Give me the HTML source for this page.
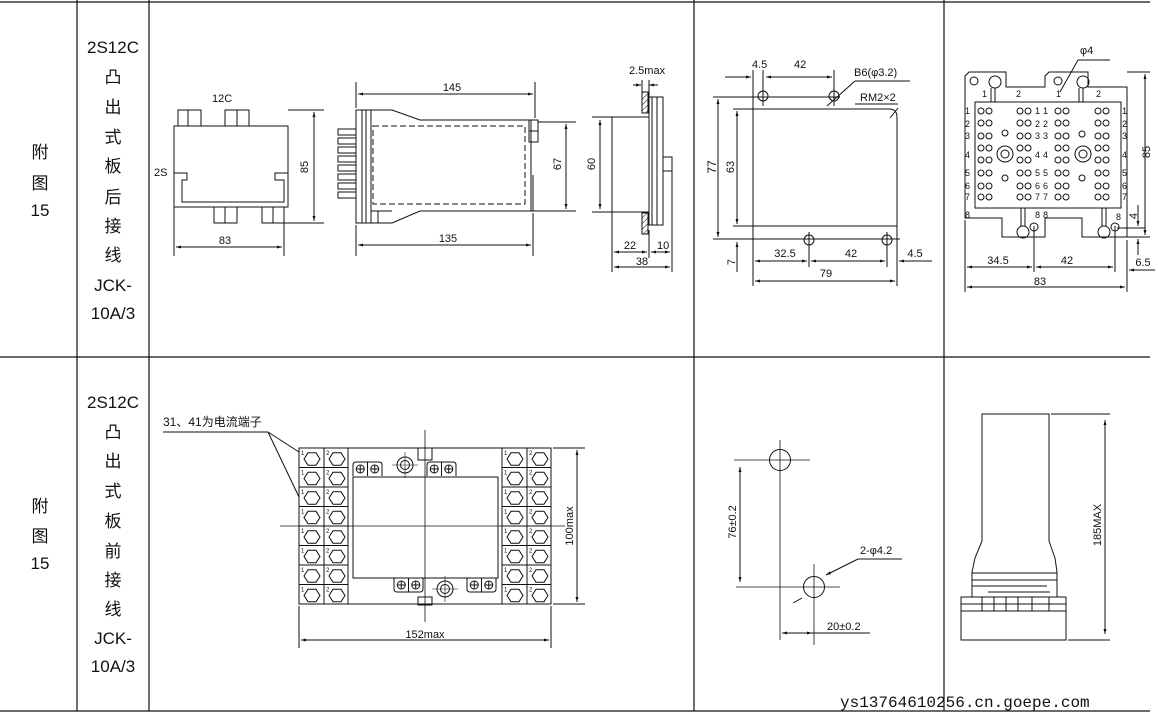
<!DOCTYPE html>
<html><head><meta charset="utf-8"><style>
html,body{margin:0;padding:0;background:#fff;}
svg{display:block;}
text{font-family:"Liberation Sans","Noto Sans CJK SC",sans-serif;fill:#111;}
.cj{font-family:"Liberation Sans","Noto Sans CJK SC",sans-serif;font-size:17px;}
.t{font-size:11px;}
</style></head><body>
<svg id="s" width="1158" height="718" viewBox="0 0 1158 718" xmlns="http://www.w3.org/2000/svg" stroke="#111" fill="none" stroke-width="1">
<defs>
<marker id="a" viewBox="0 0 10 10" refX="10" refY="5" markerWidth="7" markerHeight="5" orient="auto-start-reverse"><path d="M0,2L10,5L0,8z" fill="#111" stroke="none"/></marker>
<pattern id="h" width="4" height="4" patternUnits="userSpaceOnUse" patternTransform="rotate(45)"><line x1="0" y1="0" x2="0" y2="4" stroke="#111" stroke-width="1"/></pattern>
</defs>
<g stroke-width="1.2">
<line x1="0" y1="2" x2="1150" y2="2"/><line x1="0" y1="357" x2="1150" y2="357"/><line x1="0" y1="711" x2="1150" y2="711"/>
<line x1="77" y1="0" x2="77" y2="711"/><line x1="149" y1="0" x2="149" y2="711"/>
<line x1="694" y1="0" x2="694" y2="711"/><line x1="944" y1="0" x2="944" y2="711"/>
</g>
<g stroke="none" font-size="17" text-anchor="middle">
<text class="cj" x="40" y="158">附</text><text class="cj" x="40" y="189">图</text><text class="cj" x="40" y="216">15</text>
<text class="cj" x="113" y="53">2S12C</text><text class="cj" x="113" y="83">凸</text><text class="cj" x="113" y="113">出</text><text class="cj" x="113" y="143">式</text><text class="cj" x="113" y="172">板</text><text class="cj" x="113" y="203">后</text><text class="cj" x="113" y="232">接</text><text class="cj" x="113" y="261">线</text><text class="cj" x="113" y="291">JCK-</text><text class="cj" x="113" y="319">10A/3</text>
<text class="cj" x="40" y="512">附</text><text class="cj" x="40" y="542">图</text><text class="cj" x="40" y="569">15</text>
<text class="cj" x="113" y="408">2S12C</text><text class="cj" x="113" y="438">凸</text><text class="cj" x="113" y="467">出</text><text class="cj" x="113" y="497">式</text><text class="cj" x="113" y="527">板</text><text class="cj" x="113" y="557">前</text><text class="cj" x="113" y="586">接</text><text class="cj" x="113" y="615">线</text><text class="cj" x="113" y="644">JCK-</text><text class="cj" x="113" y="672">10A/3</text>
</g>

<!-- drawing 1 -->
<rect x="174" y="126" width="114" height="81"/>
<rect x="178" y="110" width="23" height="16"/><line x1="188" y1="110" x2="188" y2="126"/>
<rect x="225" y="110" width="24" height="16"/><line x1="237" y1="110" x2="237" y2="126"/>
<rect x="214" y="207" width="23" height="16"/><line x1="225" y1="207" x2="225" y2="223"/>
<rect x="262" y="207" width="22" height="16"/><line x1="273" y1="207" x2="273" y2="223"/>
<polyline points="174,173 187,173 187,180 182,180 182,202 284,202 284,180 275,180 275,173 288,173"/>
<line x1="288" y1="110" x2="324" y2="110"/><line x1="284" y1="223" x2="324" y2="223"/>
<line x1="314" y1="112" x2="314" y2="221" marker-start="url(#a)" marker-end="url(#a)"/>
<line x1="174" y1="207" x2="174" y2="256"/><line x1="284" y1="223" x2="284" y2="256"/>
<line x1="176" y1="247" x2="282" y2="247" marker-start="url(#a)" marker-end="url(#a)"/>
<g stroke="none" class="t"><text x="212" y="102">12C</text><text x="154" y="176">2S</text><text x="225" y="244" text-anchor="middle">83</text><text transform="translate(308,167) rotate(-90)" text-anchor="middle">85</text></g>

<!-- drawing 2 -->
<polyline points="356,110 392,110 420,120 531,120 531,211 420,211 392,223 356,223 356,110"/>
<line x1="362" y1="110" x2="362" y2="223"/><line x1="366" y1="110" x2="366" y2="223"/><line x1="371" y1="110" x2="371" y2="223"/><line x1="378" y1="211" x2="378" y2="223"/><line x1="371" y1="211" x2="392" y2="211"/>
<rect x="373" y="126" width="152" height="78" stroke-dasharray="6,3"/>
<rect x="529" y="120" width="9" height="22"/><line x1="529" y1="131" x2="538" y2="131"/>
<line x1="533" y1="175" x2="533" y2="211"/>
<g id="pins"></g>
<line x1="356" y1="82" x2="356" y2="108"/><line x1="535" y1="82" x2="535" y2="118"/>
<line x1="358" y1="94" x2="533" y2="94" marker-start="url(#a)" marker-end="url(#a)"/>
<line x1="356" y1="225" x2="356" y2="256"/><line x1="533" y1="213" x2="533" y2="256"/>
<line x1="358" y1="245" x2="531" y2="245" marker-start="url(#a)" marker-end="url(#a)"/>
<line x1="538" y1="122" x2="576" y2="122"/><line x1="531" y1="211" x2="576" y2="211"/>
<line x1="566" y1="124" x2="566" y2="209" marker-start="url(#a)" marker-end="url(#a)"/>
<g stroke="none" class="t"><text x="452" y="91" text-anchor="middle">145</text><text x="448" y="242" text-anchor="middle">135</text><text transform="translate(561,164) rotate(-90)" text-anchor="middle">67</text></g>

<!-- drawing 3 -->
<line x1="592" y1="117" x2="612" y2="117"/><line x1="592" y1="212" x2="612" y2="212"/>
<line x1="600" y1="120" x2="600" y2="209" marker-start="url(#a)" marker-end="url(#a)"/>
<rect x="612" y="117" width="37" height="95"/>
<rect x="642" y="92" width="6" height="21" fill="url(#h)"/><rect x="642" y="213" width="6" height="21" fill="url(#h)"/>
<rect x="649" y="97" width="8" height="128"/><line x1="652" y1="97" x2="652" y2="225"/><rect x="657" y="97" width="6" height="128"/>
<rect x="663" y="157" width="9" height="14"/>
<line x1="612" y1="212" x2="612" y2="272"/><line x1="649" y1="230" x2="649" y2="258"/><line x1="672" y1="171" x2="672" y2="272"/>
<line x1="614" y1="252" x2="647" y2="252" marker-start="url(#a)" marker-end="url(#a)"/>
<line x1="651" y1="252" x2="670" y2="252" marker-start="url(#a)" marker-end="url(#a)"/>
<line x1="614" y1="267" x2="670" y2="267" marker-start="url(#a)" marker-end="url(#a)"/>
<line x1="633" y1="85" x2="641" y2="85" marker-end="url(#a)"/><line x1="658" y1="85" x2="649" y2="85" marker-end="url(#a)"/>
<line x1="642" y1="80" x2="642" y2="92"/><line x1="649" y1="80" x2="649" y2="97"/>
<g stroke="none" class="t"><text x="629" y="74">2.5max</text><text x="630" y="249" text-anchor="middle">22</text><text x="657" y="249">10</text><text x="642" y="265" text-anchor="middle">38</text><text transform="translate(595,164) rotate(-90)" text-anchor="middle">60</text></g>

<!-- drawing 4 -->
<path d="M753,109 H889 Q897,109 897,117 V226 H753 Z"/>
<circle cx="763" cy="96" r="5"/><circle cx="834" cy="96" r="5"/><circle cx="809" cy="240" r="5"/><circle cx="887" cy="240" r="5"/>
<line x1="713" y1="97" x2="840" y2="97"/><line x1="713" y1="239" x2="900" y2="239"/>
<line x1="733" y1="109" x2="753" y2="109"/><line x1="733" y1="226" x2="753" y2="226"/>
<line x1="718" y1="99" x2="718" y2="237" marker-start="url(#a)" marker-end="url(#a)"/>
<line x1="737" y1="111" x2="737" y2="224" marker-start="url(#a)" marker-end="url(#a)"/>
<line x1="737" y1="272" x2="737" y2="242" marker-end="url(#a)"/>
<line x1="753" y1="70" x2="753" y2="286"/><line x1="763" y1="70" x2="763" y2="106"/><line x1="834" y1="70" x2="834" y2="106"/>
<line x1="725" y1="77" x2="751" y2="77" marker-end="url(#a)"/><line x1="766" y1="77" x2="832" y2="77" marker-start="url(#a)" marker-end="url(#a)"/>
<line x1="809" y1="232" x2="809" y2="267"/><line x1="887" y1="232" x2="887" y2="267"/><line x1="897" y1="226" x2="897" y2="286"/>
<line x1="755" y1="261" x2="807" y2="261" marker-start="url(#a)" marker-end="url(#a)"/>
<line x1="811" y1="261" x2="885" y2="261" marker-start="url(#a)" marker-end="url(#a)"/>
<line x1="932" y1="261" x2="899" y2="261" marker-end="url(#a)"/>
<line x1="755" y1="281" x2="895" y2="281" marker-start="url(#a)" marker-end="url(#a)"/>
<line x1="827" y1="106" x2="855" y2="81"/><line x1="855" y1="81" x2="910" y2="81"/>
<line x1="890" y1="118" x2="898" y2="108"/><line x1="855" y1="104" x2="898" y2="104"/>
<g stroke="none" class="t"><text x="752" y="68">4.5</text><text x="794" y="68">42</text><text x="854" y="76">B6(φ3.2)</text><text x="860" y="101">RM2×2</text>
<text transform="translate(716,167) rotate(-90)" text-anchor="middle" font-size="12">77</text><text transform="translate(734,167) rotate(-90)" text-anchor="middle">63</text><text transform="translate(735,262) rotate(-90)" text-anchor="middle">7</text>
<text x="785" y="257" text-anchor="middle">32.5</text><text x="851" y="257" text-anchor="middle">42</text><text x="915" y="257" text-anchor="middle">4.5</text><text x="826" y="277" text-anchor="middle">79</text></g>

<!-- drawing 5 -->
<path d="M969,72 H1006 V87 H1045 V76 L1049,72 H1088 V87 H1127 V237 H1082 V218 H1045 V237 H1002 V218 H965 V76 Z"/>
<rect x="975" y="102" width="146" height="106"/>
<g id="d5"></g>
<g stroke="none" font-size="9" id="d5t"></g>
<line x1="1127" y1="72" x2="1150" y2="72"/><line x1="1127" y1="237" x2="1150" y2="237"/>
<line x1="1145" y1="74" x2="1145" y2="235" marker-start="url(#a)" marker-end="url(#a)"/>
<line x1="1117" y1="228" x2="1145" y2="228"/>
<line x1="1138" y1="205" x2="1138" y2="226" marker-end="url(#a)"/><line x1="1138" y1="255" x2="1138" y2="239" marker-end="url(#a)"/>
<line x1="965" y1="220" x2="965" y2="292"/><line x1="1034" y1="226" x2="1034" y2="272"/><line x1="1115" y1="226" x2="1115" y2="272"/><line x1="1127" y1="240" x2="1127" y2="292"/>
<line x1="967" y1="267" x2="1032" y2="267" marker-start="url(#a)" marker-end="url(#a)"/>
<line x1="1036" y1="267" x2="1113" y2="267" marker-start="url(#a)" marker-end="url(#a)"/>
<line x1="1155" y1="270" x2="1129" y2="270" marker-end="url(#a)"/>
<line x1="967" y1="287" x2="1125" y2="287" marker-start="url(#a)" marker-end="url(#a)"/>
<line x1="1060" y1="92" x2="1078" y2="60"/><line x1="1078" y1="60" x2="1110" y2="60"/>
<g stroke="none" class="t"><text x="1080" y="54">φ4</text><text x="998" y="264" text-anchor="middle">34.5</text><text x="1067" y="264" text-anchor="middle">42</text><text x="1040" y="285" text-anchor="middle">83</text><text x="1143" y="266" text-anchor="middle">6.5</text>
<text transform="translate(1150,152) rotate(-90)" text-anchor="middle">85</text><text transform="translate(1137,216) rotate(-90)" text-anchor="middle">4</text></g>

<!-- drawing 6 -->
<rect x="299" y="448" width="252" height="156"/>
<line x1="348" y1="448" x2="348" y2="604"/><line x1="502" y1="448" x2="502" y2="604"/>
<line x1="324" y1="448" x2="324" y2="604"/><line x1="527" y1="448" x2="527" y2="604"/>
<rect x="353" y="477" width="145" height="101"/>
<g id="d6"></g>
<line x1="425" y1="430" x2="425" y2="622" stroke-width="0.8"/><line x1="280" y1="526" x2="565" y2="526" stroke-width="0.8"/>
<rect x="418" y="448" width="14" height="12"/><rect x="418" y="597" width="14" height="8"/>
<line x1="163" y1="432" x2="268" y2="432"/><line x1="268" y1="432" x2="299" y2="452"/><line x1="268" y1="432" x2="299" y2="497"/>
<line x1="299" y1="606" x2="299" y2="648"/><line x1="551" y1="606" x2="551" y2="648"/>
<line x1="301" y1="640" x2="549" y2="640" marker-start="url(#a)" marker-end="url(#a)"/>
<line x1="553" y1="448" x2="585" y2="448"/><line x1="553" y1="604" x2="585" y2="604"/>
<line x1="577" y1="450" x2="577" y2="602" marker-start="url(#a)" marker-end="url(#a)"/>
<g stroke="none" class="t"><text x="163" y="426" font-size="12">31、41为电流端子</text><text x="425" y="638" text-anchor="middle">152max</text><text transform="translate(573,526) rotate(-90)" text-anchor="middle">100max</text></g>

<!-- drawing 7 -->
<circle cx="780" cy="460" r="10.5"/><circle cx="814" cy="587" r="10.5"/>
<line x1="780" y1="440" x2="780" y2="640" stroke-width="0.8"/><line x1="734" y1="460" x2="810" y2="460" stroke-width="0.8"/>
<line x1="736" y1="587" x2="840" y2="587" stroke-width="0.8"/><line x1="814" y1="564" x2="814" y2="645" stroke-width="0.8"/>
<line x1="740" y1="467" x2="740" y2="582" marker-start="url(#a)" marker-end="url(#a)"/>
<line x1="782" y1="633" x2="812" y2="633" marker-start="url(#a)" marker-end="url(#a)"/><line x1="812" y1="633" x2="870" y2="633"/>
<line x1="858" y1="559" x2="826" y2="575" marker-end="url(#a)"/><line x1="858" y1="559" x2="902" y2="559"/><line x1="802" y1="598" x2="793" y2="603"/>
<g stroke="none" class="t"><text x="860" y="554">2-φ4.2</text><text x="827" y="630">20±0.2</text><text transform="translate(736,522) rotate(-90)" text-anchor="middle">76±0.2</text></g>

<!-- drawing 8 -->
<polyline points="982,541 982,414 1049,414 1049,541"/>
<polyline points="982,541 975,558 972,572 972,597"/><polyline points="1049,541 1055,558 1057,572 1057,597"/>
<line x1="972" y1="573" x2="1057" y2="573"/><line x1="972" y1="580" x2="1057" y2="580"/><line x1="972" y1="586" x2="1047" y2="586"/><line x1="988" y1="592" x2="1050" y2="592"/>
<rect x="961" y="597" width="105" height="43"/><line x1="961" y1="604" x2="1066" y2="604"/><line x1="961" y1="611" x2="1066" y2="611"/>
<line x1="982" y1="597" x2="982" y2="611"/><line x1="994" y1="597" x2="994" y2="611"/><line x1="1006" y1="597" x2="1006" y2="611"/><line x1="1018" y1="597" x2="1018" y2="611"/><line x1="1032" y1="597" x2="1032" y2="611"/><line x1="1049" y1="597" x2="1049" y2="611"/>
<line x1="1051" y1="414" x2="1110" y2="414"/><line x1="1068" y1="640" x2="1110" y2="640"/>
<line x1="1105" y1="420" x2="1105" y2="634" marker-start="url(#a)" marker-end="url(#a)"/>
<g stroke="none" class="t"><text transform="translate(1101,525) rotate(-90)" text-anchor="middle">185MAX</text></g>

<text x="840" y="707" stroke="none" fill="#333" style="font-family:'Liberation Mono',monospace;font-size:16px;">ys13764610256.cn.goepe.com</text>
</svg>
<script>
var NS="http://www.w3.org/2000/svg";
function el(p,t,a){var e=document.createElementNS(NS,t);for(var k in a)e.setAttribute(k,a[k]);document.getElementById(p).appendChild(e);return e;}
for(var i=0;i<8;i++){el("pins","rect",{x:338,y:129+i*9,width:18,height:6});}
var xs=[981,989,1020,1028,1058,1066,1098,1106],ys=[111,123,136,148,160,173,186,197];
xs.forEach(function(x){ys.forEach(function(y){el("d5","circle",{cx:x,cy:y,r:3});});});
[[1005,154],[1083,154]].forEach(function(c){el("d5","circle",{cx:c[0],cy:c[1],r:8});el("d5","circle",{cx:c[0],cy:c[1],r:4});});
[[1005,133],[1005,178],[1082,134],[1082,178]].forEach(function(c){el("d5","circle",{cx:c[0],cy:c[1],r:3});});
[[974,81,4],[995,82,6],[1058,81,4],[1083,82,6],[1023,232,6],[1034,227,4],[1104,232,6],[1115,227,4]].forEach(function(c){el("d5","circle",{cx:c[0],cy:c[1],r:c[2]});});
[[993,88,102],[1081,88,102],[1023,208,226],[1104,208,226]].forEach(function(c){el("d5","line",{x1:c[0]-2,y1:c[1],x2:c[0]-2,y2:c[2]});el("d5","line",{x1:c[0]+2,y1:c[1],x2:c[0]+2,y2:c[2]});});
function tx(x,y,s){var t=el("d5t","text",{x:x,y:y});t.textContent=s;}
var ly=[114,127,139,158,176,189,200];
ly.forEach(function(y,i){var n=""+(i+1);tx(965,y,n);tx(1122,y,n);tx(1035,y,n);tx(1043,y,n);});
tx(965,218,"8");tx(1035,218,"8");tx(1043,218,"8");tx(1116,220,"8");
tx(982,97,"1");tx(1016,97,"2");tx(1056,97,"1");tx(1096,97,"2");
function hex(cx,cy){var r=8,p=[];for(var k=0;k<6;k++){var a=Math.PI/3*k;p.push((cx+r*Math.cos(a)).toFixed(1)+","+(cy+r*0.9*Math.sin(a)).toFixed(1));}el("d6","polygon",{points:p.join(" ")});}
for(var i=0;i<8;i++){var y=448+i*19.5;if(i>0){el("d6","line",{x1:299,y1:y,x2:348,y2:y});el("d6","line",{x1:502,y1:y,x2:551,y2:y});}
[311,336,514,539].forEach(function(x){hex(x+1,y+11);});
[[301,"1"],[326,"2"],[504,"1"],[529,"2"]].forEach(function(q){var t=el("d6","text",{x:q[0],y:y+7,"font-size":"6",stroke:"none"});t.textContent=q[1];});}
function blk(x,y,w,up){el("d6","path",{d:up?("M"+x+","+(y+14)+"V"+(y+3)+"Q"+x+","+y+" "+(x+3)+","+y+"H"+(x+w-3)+"Q"+(x+w)+","+y+" "+(x+w)+","+(y+3)+"V"+(y+14)):("M"+x+","+y+"V"+(y+11)+"Q"+x+","+(y+14)+" "+(x+3)+","+(y+14)+"H"+(x+w-3)+"Q"+(x+w)+","+(y+14)+" "+(x+w)+","+(y+11)+"V"+y)});
el("d6","line",{x1:x+w/2,y1:y,x2:x+w/2,y2:y+14});[x+w/4,x+3*w/4].forEach(function(c){el("d6","circle",{cx:c,cy:y+7,r:4});el("d6","line",{x1:c-4,y1:y+7,x2:c+4,y2:y+7});el("d6","line",{x1:c,y1:y+3,x2:c,y2:y+11});});}
blk(353,462,29,true);blk(427,462,29,true);blk(394,578,29,false);blk(467,578,29,false);
[[405,465],[445,589]].forEach(function(c){el("d6","circle",{cx:c[0],cy:c[1],r:8});el("d6","circle",{cx:c[0],cy:c[1],r:4.5});el("d6","line",{x1:c[0]-13,y1:c[1],x2:c[0]+13,y2:c[1],"stroke-width":"0.6"});el("d6","line",{x1:c[0],y1:c[1]-13,x2:c[0],y2:c[1]+13,"stroke-width":"0.6"});});
</script>
</body></html>
